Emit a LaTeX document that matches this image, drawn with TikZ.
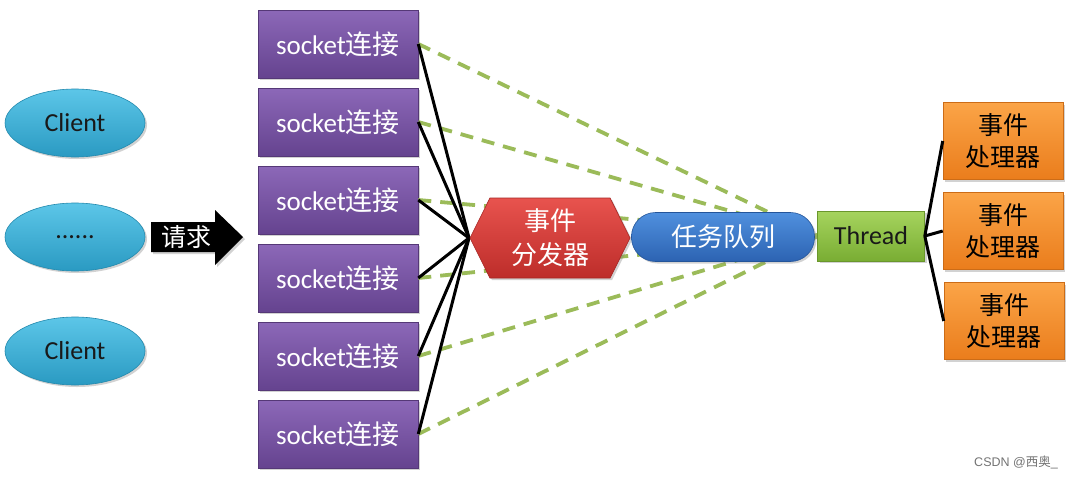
\documentclass[tikz,border=0pt]{standalone}
\usepackage{fontspec}
\setmainfont{Carlito}
\newfontfamily\cjk{Noto Sans CJK SC}
\newfontfamily\wmfont{Liberation Sans}
\usetikzlibrary{shapes.geometric,shapes.symbols,shadows}
\definecolor{cliA}{HTML}{5CC6E8}\definecolor{cliB}{HTML}{2A9AC2}\definecolor{cliD}{HTML}{2389AD}
\definecolor{sokA}{HTML}{8C68B8}\definecolor{sokB}{HTML}{65438F}\definecolor{sokD}{HTML}{553877}
\definecolor{hexA}{HTML}{E8534E}\definecolor{hexB}{HTML}{BD2D2A}\definecolor{hexD}{HTML}{A62624}
\definecolor{queA}{HTML}{5090DE}\definecolor{queB}{HTML}{2C63B2}\definecolor{queD}{HTML}{24559A}
\definecolor{thrA}{HTML}{A6D45E}\definecolor{thrB}{HTML}{79AD33}\definecolor{thrD}{HTML}{6A972C}
\definecolor{hanA}{HTML}{FBA447}\definecolor{hanB}{HTML}{EA7D1C}\definecolor{hanD}{HTML}{CC6C17}
\definecolor{dashgreen}{HTML}{9BBB59}
\newcommand{\socktxt}{socket{\cjk 连接}}
\tikzset{
  shad/.style={drop shadow={opacity=0.35,shadow xshift=2pt,shadow yshift=-2pt}},
  big/.style={font=\fontsize{26}{32}\selectfont},
  client/.style={ellipse,shad,big,draw=cliD,line width=0.6pt,top color=cliA,bottom color=cliB,minimum width=140pt,minimum height=68pt,inner sep=0pt,text=black!90},
  sockbox/.style={rectangle,shad,draw=sokD,line width=0.6pt,top color=sokA,bottom color=sokB,minimum width=160pt,minimum height=68pt,inner sep=0pt,text=white,font=\fontsize{27}{32}\selectfont},
  hexbox/.style={signal,signal to=west and east,signal pointer angle=127,shad,draw=hexD,line width=0.6pt,top color=hexA,bottom color=hexB,minimum width=160pt,minimum height=80pt,inner sep=0pt,text=white,align=center,font=\cjk\fontsize{26}{34}\selectfont},
  quebox/.style={rectangle,rounded corners=24pt,shad,draw=queD,line width=0.6pt,top color=queA,bottom color=queB,minimum width=183pt,minimum height=49pt,inner sep=0pt,text=white,font=\cjk\fontsize{26}{32}\selectfont},
  thrbox/.style={rectangle,shad,draw=thrD,line width=0.6pt,top color=thrA,bottom color=thrB,minimum width=107pt,minimum height=50pt,inner sep=0pt,text=black!90,font=\fontsize{26}{30}\selectfont},
  hanbox/.style={rectangle,shad,draw=hanD,line width=0.6pt,top color=hanA,bottom color=hanB,minimum width=120pt,minimum height=77pt,inner sep=0pt,text=black,align=center,font=\cjk\fontsize{25}{32}\selectfont},
  blk/.style={black,line width=3pt},
  dsh/.style={dashgreen,line width=3.8pt,dash pattern=on 13pt off 9pt},
}
\begin{document}
\begin{tikzpicture}[x=1pt,y=-1pt]
\useasboundingbox[fill=white] (0,0) rectangle (1068,477);
% clients
\node[client] (c1) at (75,123) {Client};
\node[client] (c2) at (75,237) {......};
\node[client] (c3) at (75,351) {Client};
% request arrow
\fill[black,shad] (151,222) -- (215,222) -- (215,210) -- (243,237) -- (215,265) -- (215,252) -- (151,252) -- cycle;
\node[text=white,font=\cjk\fontsize{25}{30}\selectfont] (req) at (186,237) {请求};
% sockets
\foreach \i/\y in {1/44,2/122,3/200,4/278,5/356,6/434}{
  \node[sockbox] (s\i) at (338,\y) {\socktxt};
}
% convergence points
\coordinate (disW) at (469,238);
\coordinate (thrW) at (818,236);
% dashed lines (behind)
\foreach \i in {1,...,6}{
  \draw[dsh] (s\i.east) -- (thrW);
}
% black lines
\foreach \i in {1,...,6}{
  \draw[blk] (s\i.east) -- (disW);
}
\node[hexbox] (dis) at (550,238) {事件\\分发器};
\node[quebox] (que) at (723,237) {任务队列};
\node[thrbox] (thr) at (871,236) {Thread};
\node[hanbox] (h1) at (1003,141) {事件\\处理器};
\node[hanbox] (h2) at (1003,231) {事件\\处理器};
\node[hanbox] (h3) at (1004,321) {事件\\处理器};
\foreach \i in {1,2,3}{
  \draw[black,line width=3pt] (thr.east) -- (h\i.west);
}
\node[text=black!55,font=\wmfont\fontsize{12.5}{14}\selectfont] (wm) at (1016,462) {CSDN @{\cjk 西奥}\_};
\end{tikzpicture}
\end{document}
